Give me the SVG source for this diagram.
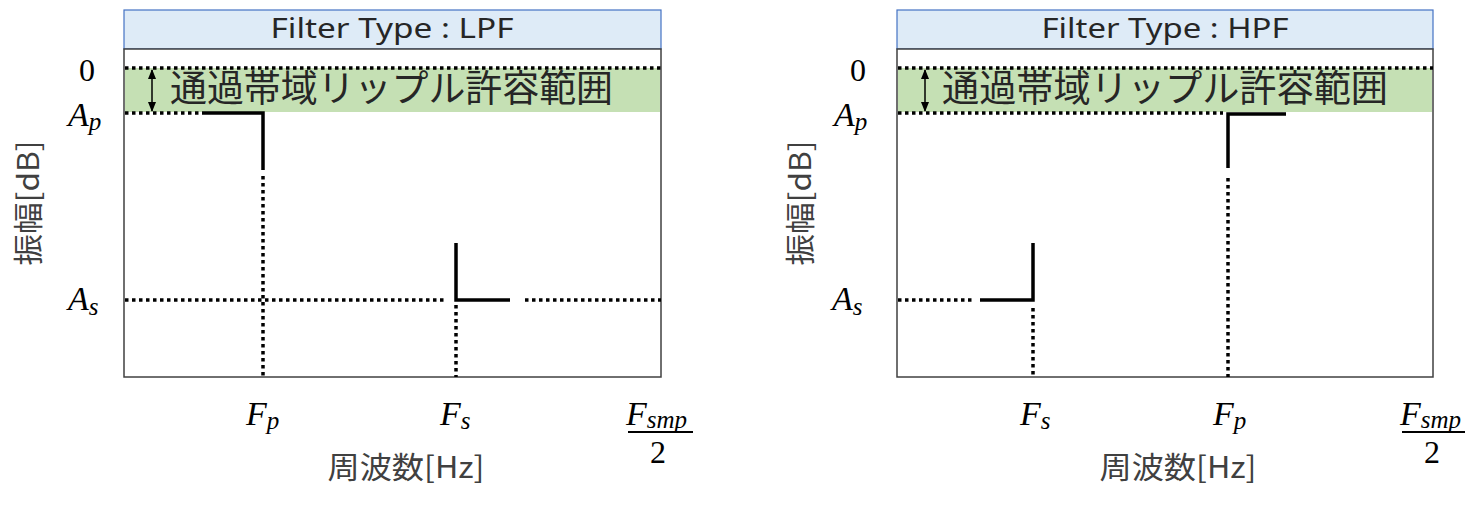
<svg xmlns="http://www.w3.org/2000/svg" width="1480" height="507" viewBox="0 0 1480 507">
<defs>
<marker id="ah" viewBox="0 0 10 10" refX="9" refY="5" markerWidth="10" markerHeight="10" orient="auto-start-reverse" markerUnits="userSpaceOnUse">
<path d="M0,1 L10,5 L0,9 z" fill="#000"/>
</marker>
<style>
.hdr{fill:#deebf7;stroke:#4472c4;stroke-width:1.2}
.plot{fill:#fff;stroke:#404040;stroke-width:1.5}
.band{fill:#c5e0b4}
.dot{stroke:#000;stroke-width:3.5;stroke-dasharray:3.5 3.5;fill:none}
.solid{stroke:#000;stroke-width:3.5;fill:none;stroke-linecap:butt}
.ttl{font-family:"Noto Sans","Noto Sans CJK JP",sans-serif;font-size:28px;fill:#262626;text-anchor:middle}
.rip{font-family:"Noto Sans CJK JP",sans-serif;font-size:37px;fill:#262626}
.ax{font-family:"Noto Sans CJK JP",sans-serif;font-size:30px;fill:#404040;text-anchor:middle}
.m{font-family:"Liberation Serif",serif;font-style:italic;font-size:34px;fill:#000}
.sub{font-size:25px}
.num{font-family:"Liberation Serif",serif;font-size:32px;fill:#000;text-anchor:middle}
.arr{stroke:#000;stroke-width:1.5;fill:none}
</style>
</defs>
<rect width="1480" height="507" fill="#fff"/>

<g id="lpf-panel">
<rect class="hdr" x="124" y="10" width="537" height="39"/>
<text class="ttl" x="392" y="38" textLength="243" lengthAdjust="spacingAndGlyphs">Filter Type : LPF</text>
<rect class="plot" x="124" y="49" width="537" height="328"/>
<rect class="band" x="125" y="68" width="535" height="44"/>
<line class="dot" x1="125" y1="68" x2="661" y2="68"/>
<text class="rip" x="170" y="102" textLength="443" lengthAdjust="spacingAndGlyphs">通過帯域リップル許容範囲</text>
<line class="dot" x1="125" y1="113" x2="203" y2="113"/>
<polyline class="solid" points="203,113 263,113 263,170"/>
<line class="dot" x1="263" y1="176" x2="263" y2="377"/>
<line class="dot" x1="125" y1="300" x2="444" y2="300"/>
<polyline class="solid" points="456,243 456,300 510,300"/>
<line class="dot" x1="525" y1="300" x2="661" y2="300"/>
<line class="dot" x1="456" y1="305" x2="456" y2="377"/>
<text class="num" x="87" y="81">0</text>
<text class="m" x="68" y="126">A<tspan class="sub" dy="4">p</tspan></text>
<text class="m" x="68" y="310">A<tspan class="sub" dy="5">s</tspan></text>
<text class="ax" transform="translate(39,203) rotate(-90)" textLength="125" lengthAdjust="spacingAndGlyphs">振幅[dB]</text>
<text class="m" x="246" y="425">F<tspan class="sub" dy="4">p</tspan></text>
<text class="m" x="440" y="425">F<tspan class="sub" dy="4">s</tspan></text>
<text class="m" x="626" y="425">F<tspan class="sub" dy="3">smp</tspan></text>
<line x1="628" y1="432" x2="693" y2="432" stroke="#000" stroke-width="2"/>
<text class="num" x="658" y="463">2</text>
<text class="ax" x="406" y="478" textLength="157" lengthAdjust="spacingAndGlyphs">周波数[Hz]</text>
</g>

<g id="hpf-panel">
<rect class="hdr" x="897" y="10" width="536" height="39"/>
<text class="ttl" x="1165" y="38" textLength="247" lengthAdjust="spacingAndGlyphs">Filter Type : HPF</text>
<rect class="plot" x="897" y="49" width="536" height="328"/>
<rect class="band" x="898" y="68" width="534" height="44"/>
<line class="dot" x1="898" y1="68" x2="1433" y2="68"/>
<text class="rip" x="942" y="102" textLength="446" lengthAdjust="spacingAndGlyphs">通過帯域リップル許容範囲</text>
<line class="dot" x1="898" y1="113" x2="1223" y2="113"/>
<polyline class="solid" points="1228,168 1228,114 1286,114"/>
<line class="dot" x1="1228" y1="178" x2="1228" y2="377"/>
<line class="dot" x1="898" y1="300" x2="973" y2="300"/>
<polyline class="solid" points="980,300 1033,300 1033,243"/>
<line class="dot" x1="1033" y1="308" x2="1033" y2="377"/>
<text class="num" x="858" y="81">0</text>
<text class="m" x="834" y="126">A<tspan class="sub" dy="4">p</tspan></text>
<text class="m" x="832" y="310">A<tspan class="sub" dy="5">s</tspan></text>
<text class="ax" transform="translate(811,203) rotate(-90)" textLength="125" lengthAdjust="spacingAndGlyphs">振幅[dB]</text>
<text class="m" x="1020" y="425">F<tspan class="sub" dy="4">s</tspan></text>
<text class="m" x="1213" y="425">F<tspan class="sub" dy="4">p</tspan></text>
<text class="m" x="1400" y="425">F<tspan class="sub" dy="3">smp</tspan></text>
<line x1="1402" y1="432" x2="1465" y2="432" stroke="#000" stroke-width="2"/>
<text class="num" x="1432" y="463">2</text>
<text class="ax" x="1178" y="478" textLength="157" lengthAdjust="spacingAndGlyphs">周波数[Hz]</text>
</g>

<g id="connectors">
<line class="arr" x1="152" y1="70" x2="152" y2="111" marker-start="url(#ah)" marker-end="url(#ah)"/>
<line class="arr" x1="925" y1="70" x2="925" y2="111" marker-start="url(#ah)" marker-end="url(#ah)"/>
</g>
</svg>
